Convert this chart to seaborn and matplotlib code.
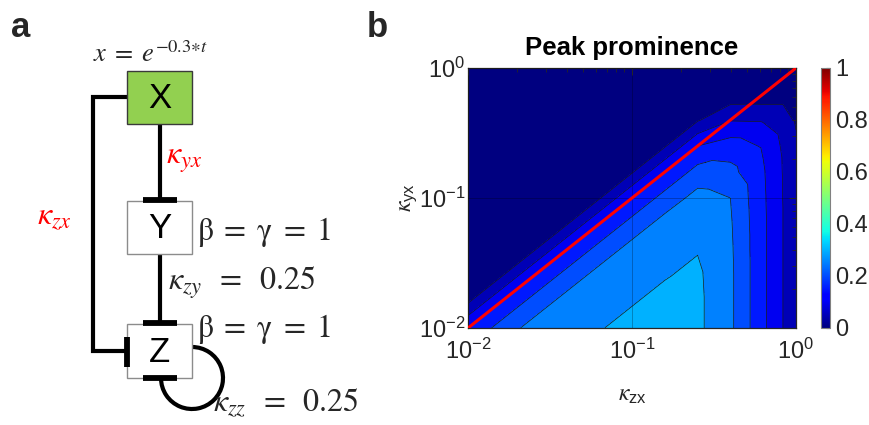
import numpy as np
import matplotlib
matplotlib.use("Agg")
import matplotlib.pyplot as plt
import matplotlib.tri as mtri
from matplotlib.patches import Rectangle, Arc
from matplotlib.cm import ScalarMappable
from matplotlib.colors import Normalize
from matplotlib.ticker import NullFormatter
import seaborn as sns

# ---------------- data ----------------
# grid of log10(kappa_zx) (columns) and log10(kappa_yx) (rows)
log10_kzx = [-2.0, -1.8, -1.6, -1.4, -1.2, -1.0, -0.8, -0.6, -0.4, -0.2, 0.0]
log10_kyx = [-2.0, -1.8, -1.6, -1.4, -1.2, -1.0, -0.8, -0.6, -0.4, -0.2, 0.0]

# peak prominence, one list per kappa_yx row (values along kappa_zx)
prom_kyx_m2_0 = [0.150, 0.220, 0.270, 0.285, 0.298, 0.310, 0.318, 0.310, 0.260, 0.160, 0.060]
prom_kyx_m1_8 = [0.045, 0.150, 0.220, 0.270, 0.285, 0.298, 0.310, 0.310, 0.260, 0.160, 0.060]
prom_kyx_m1_6 = [0.000, 0.045, 0.150, 0.220, 0.270, 0.285, 0.298, 0.308, 0.260, 0.160, 0.060]
prom_kyx_m1_4 = [0.000, 0.000, 0.045, 0.150, 0.220, 0.270, 0.285, 0.298, 0.258, 0.160, 0.060]
prom_kyx_m1_2 = [0.000, 0.000, 0.000, 0.045, 0.150, 0.220, 0.270, 0.285, 0.255, 0.160, 0.060]
prom_kyx_m1_0 = [0.000, 0.000, 0.000, 0.000, 0.045, 0.150, 0.220, 0.268, 0.250, 0.158, 0.060]
prom_kyx_m0_8 = [0.000, 0.000, 0.000, 0.000, 0.000, 0.045, 0.150, 0.220, 0.215, 0.155, 0.060]
prom_kyx_m0_6 = [0.000, 0.000, 0.000, 0.000, 0.000, 0.000, 0.045, 0.150, 0.175, 0.145, 0.058]
prom_kyx_m0_4 = [0.000, 0.000, 0.000, 0.000, 0.000, 0.000, 0.000, 0.045, 0.097, 0.095, 0.045]
prom_kyx_m0_2 = [0.000, 0.000, 0.000, 0.000, 0.000, 0.000, 0.000, 0.000, 0.018, 0.020, 0.020]
prom_kyx_p0_0 = [0.000, 0.000, 0.000, 0.000, 0.000, 0.000, 0.000, 0.000, 0.000, 0.000, 0.000]

contour_levels = [0.0, 0.05, 0.10, 0.15, 0.20, 0.25, 0.30, 0.35]
cbar_ticks = [0, 0.2, 0.4, 0.6, 0.8, 1.0]
cbar_ticklabels = ["0", "0.2", "0.4", "0.6", "0.8", "1"]
diagonal_k = [0.01, 1.0]

# panel a texts
node_names = ["X", "Y", "Z"]
input_text = r"$x\;=\;e^{-0.3{\ast}t}$"
kyx_text = r"$\kappa_{yx}$"
kzx_text = r"$\kappa_{zx}$"
kzy_text = r"$\kappa_{zy}\;\;=\;\;0.25$"
kzz_text = r"$\kappa_{zz}\;\;=\;\;0.25$"
bg_text = r"$\mathrm{\beta}\;=\;\mathrm{\gamma}\;=\;1$"

# ---------------- style ----------------
sns.set_style("white")
plt.rcParams["font.family"] = ["Liberation Sans", "DejaVu Sans"]
plt.rcParams["mathtext.fontset"] = "stix"
DARK = "#262626"

fig = plt.figure(figsize=(8.7, 4.25), dpi=100)

# ================= panel a : network diagram =================
axa = fig.add_axes([0, 0, 380 / 870, 1])
axa.set_xlim(0, 380)
axa.set_ylim(425, 0)
axa.set_axis_off()

lw_line = 3.0
lw_bar = 4.2
boxes = {"X": (127, 71, 65, 53), "Y": (127, 201, 65, 53), "Z": (127, 324, 65, 54)}
for name in node_names:
    x0, y0, w, h = boxes[name]
    fc = "#92D050" if name == "X" else "white"
    ec = "#3a3a3a" if name == "X" else "#8c8c8c"
    axa.add_patch(Rectangle((x0, y0), w, h, facecolor=fc, edgecolor=ec, lw=1.0, zorder=3))
    axa.text(x0 + w / 2, y0 + h / 2 + 1, name, ha="center", va="center",
             fontsize=25, color="black", zorder=4)

# X -> Y
axa.plot([160, 160], [124, 199], color="black", lw=lw_line, solid_capstyle="butt", zorder=2)
axa.plot([143, 177], [200, 200], color="black", lw=lw_bar, solid_capstyle="butt", zorder=5)
# Y -> Z
axa.plot([160, 160], [254, 322], color="black", lw=lw_line, solid_capstyle="butt", zorder=2)
axa.plot([143, 177], [323, 323], color="black", lw=lw_bar, solid_capstyle="butt", zorder=5)
# X -> Z (left path)
axa.plot([127, 93, 93, 126], [97, 97, 351, 351], color="black", lw=lw_line,
         solid_joinstyle="miter", solid_capstyle="butt", zorder=2)
axa.plot([127, 127], [337, 367], color="black", lw=lw_bar, solid_capstyle="butt", zorder=5)
# Z self loop
axa.add_patch(Arc((192, 378), 62, 62, theta1=-90, theta2=180, color="black", lw=lw_line, zorder=2))
axa.plot([143, 177], [378, 378], color="black", lw=lw_bar, solid_capstyle="butt", zorder=5)

axa.text(11, 37, "a", fontsize=25, fontweight="bold", va="baseline", ha="left")
axa.text(93, 62, input_text, fontsize=19, va="baseline", ha="left")
axa.text(166, 164, kyx_text, fontsize=23, color="red", va="baseline", ha="left")
axa.text(37, 224, kzx_text, fontsize=23, color="red", va="baseline", ha="left")
axa.text(197, 240, bg_text, fontsize=23, va="baseline", ha="left")
axa.text(168, 290, kzy_text, fontsize=23, va="baseline", ha="left")
axa.text(197, 337, bg_text, fontsize=23, va="baseline", ha="left")
axa.text(213, 411, kzz_text, fontsize=23, va="baseline", ha="left")

fig.text(367 / 870, 1 - 37 / 425, "b", fontsize=25, fontweight="bold", va="baseline", ha="left")

# ================= panel b : contour map =================
ax = fig.add_axes([468 / 870, 1 - 328 / 425, 328 / 870, 260 / 425])
ax.set_xscale("log")
ax.set_yscale("log")

U, V = np.meshgrid(log10_kzx, log10_kyx)
Z = np.array([prom_kyx_m2_0, prom_kyx_m1_8, prom_kyx_m1_6, prom_kyx_m1_4, prom_kyx_m1_2,
              prom_kyx_m1_0, prom_kyx_m0_8, prom_kyx_m0_6, prom_kyx_m0_4, prom_kyx_m0_2,
              prom_kyx_p0_0])
n = len(log10_kzx)
m = len(log10_kyx)
triangles = []
for j in range(m - 1):
    for i in range(n - 1):
        a = j * n + i
        triangles.append([a, a + 1, a + n + 1])
        triangles.append([a, a + n + 1, a + n])
tri_log = mtri.Triangulation(U.ravel(), V.ravel(), triangles)
refiner = mtri.UniformTriRefiner(tri_log)
interp = mtri.LinearTriInterpolator(tri_log, Z.ravel())
tri_fine, z_fine = refiner.refine_field(Z.ravel(), triinterpolator=interp, subdiv=3)
tri_k = mtri.Triangulation(10 ** tri_fine.x, 10 ** tri_fine.y, tri_fine.triangles)

jet = plt.get_cmap("jet")
band_colors = [jet(lv) for lv in contour_levels[:-1]]
ax.tricontourf(tri_k, z_fine, levels=contour_levels, colors=band_colors, zorder=1)
ax.tricontour(tri_k, z_fine, levels=contour_levels[1:-1], colors="#1a1a1a",
              linewidths=0.5, zorder=1.5)

sns.lineplot(x=diagonal_k, y=diagonal_k, ax=ax, color="red", lw=2.2, zorder=3)

ax.set_xlim(0.01, 1)
ax.set_ylim(0.01, 1)
ax.xaxis.set_minor_formatter(NullFormatter())
ax.yaxis.set_minor_formatter(NullFormatter())
ax.tick_params(which="both", direction="in", top=True, right=True, colors=DARK,
               labelsize=17, labelcolor=DARK)
ax.tick_params(which="major", length=5, width=0.7)
ax.tick_params(which="minor", length=3, width=0.6)
ax.tick_params(axis="x", pad=8)
ax.tick_params(axis="y", pad=2)
ax.grid(True, which="major", color="black", alpha=0.3, lw=0.6)
ax.set_axisbelow(False)
for sp in ax.spines.values():
    sp.set_color(DARK)
    sp.set_linewidth(0.9)

ax.set_title("Peak prominence", fontsize=18.5, fontweight="bold", pad=9, color="black")
ax.set_xlabel(r"$\kappa_{\mathregular{zx}}$", fontsize=17, labelpad=14, color=DARK)
ax.set_ylabel(r"$\kappa_{\mathregular{yx}}$", fontsize=17, labelpad=0, color=DARK)

cax = fig.add_axes([821 / 870, 1 - 328 / 425, 9 / 870, 260 / 425])
cb = fig.colorbar(ScalarMappable(norm=Normalize(0, 1), cmap=jet), cax=cax)
cb.set_ticks(cbar_ticks)
cb.set_ticklabels(cbar_ticklabels)
cax.tick_params(direction="in", length=3, labelsize=17, colors=DARK, labelcolor=DARK, pad=4)
cb.outline.set_edgecolor("#808080")
cb.outline.set_linewidth(0.8)

fig.savefig("out.png", dpi=100, facecolor="white")
